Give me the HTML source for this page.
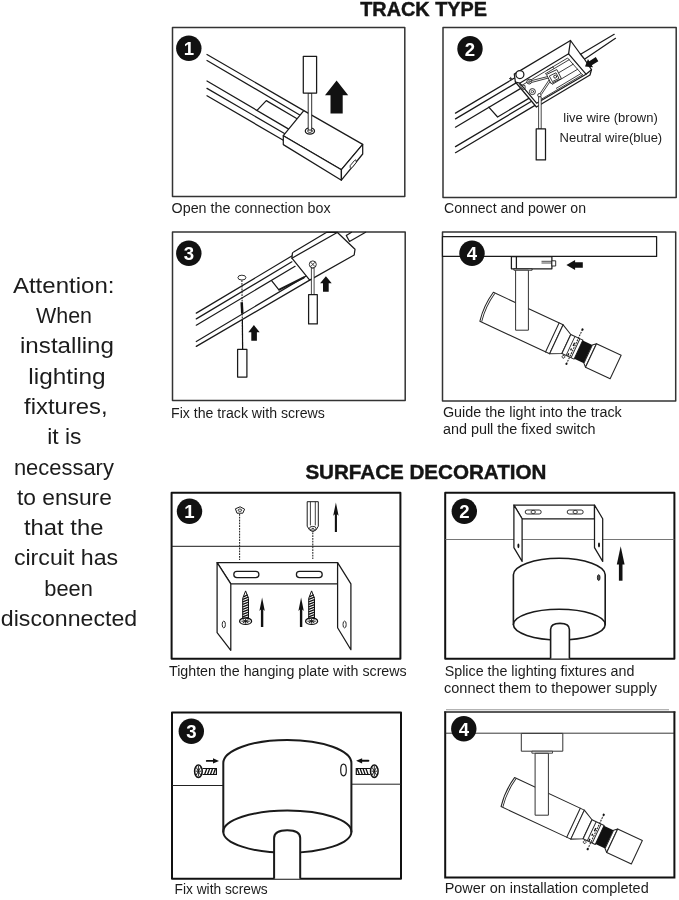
<!DOCTYPE html>
<html lang="en">
<head>
<meta charset="utf-8">
<title>Installation guide</title>
<style>
html,body{margin:0;padding:0;background:#fff;}
body{width:679px;height:900px;overflow:hidden;position:relative;font-family:"Liberation Sans",sans-serif;}
svg{position:absolute;left:0;top:0;display:block;will-change:transform;}
text{font-family:"Liberation Sans",sans-serif;fill:#1c1c1c;}
.ttl{font-weight:bold;fill:#141414;stroke:#141414;stroke-width:.45;}
.cap{font-size:14px;}
.att{font-size:21.5px;}
.lbl{font-size:13px;}
.ln{fill:none;stroke:#1a1a1a;stroke-width:1.25;stroke-linejoin:round;stroke-linecap:round;}
.wf{fill:#fff;stroke:#1a1a1a;stroke-width:1.25;stroke-linejoin:round;}
.bk{fill:#111;stroke:none;}
.lw{stroke-width:1.05;stroke:#262626;}
.num{font-weight:bold;font-size:18.6px;fill:#fff;text-anchor:middle;}
.thin{fill:none;stroke:#2a2a2a;stroke-width:0.9;}
.dot{fill:none;stroke:#222;stroke-width:1.05;stroke-dasharray:1.8 1;}
</style>
</head>
<body>
<svg width="679" height="900" viewBox="0 0 679 900">
<defs>
<g id="lamp" style="stroke-width:1.05">
  <!-- local coords: axis along x -->
  <path class="wf lw" d="M-1,-16 L76,-16 L76,16 L-1,16 Q-4.2,0 -1,-16 Z"/>
  <path class="thin" d="M0.8,-15.5 Q-2.2,0 0.8,15.5"/>
  <path class="ln lw" d="M71.5,-16 V16"/>
  <path class="wf lw" d="M76,-16 L87,-10.5 L87,10.5 L76,16 Z"/>
  <path class="wf lw" d="M87,-10.5 H100.4 V10.5 H87 Z"/>
  <path class="thin" d="M91.6,-10.5 V10.5 M97.1,-10.5 V10.5"/>
  <path d="M94,-4.5 V-1 M93.6,2 V4 M93.2,7.5 V10" stroke="#111" stroke-width="1.3" fill="none"/>
  <path class="bk" d="M100.4,-10 H111 V10 H100.4 Z"/>
  <path class="wf lw" d="M111,-10 L114.2,-13 V13 L111,10 Z"/>
  <path class="wf lw" d="M114.2,-13 H141.4 V13 H114.2 Z"/>
  <path class="dot" d="M95.5,-20 V18"/>
  <circle cx="95.5" cy="-20" r="1.1" fill="#111"/>
  <circle cx="95.5" cy="18" r="1.1" fill="#111"/>
  <circle class="wf lw" cx="89.8" cy="12.8" r="1.4" style="stroke-width:.8"/>
</g>
</defs>

<!-- ===== titles ===== -->
<text class="ttl" x="360.2" y="16.1" font-size="19.8" textLength="126.8" lengthAdjust="spacingAndGlyphs">TRACK TYPE</text>
<text class="ttl" x="305.4" y="478.5" font-size="20.6" textLength="241" lengthAdjust="spacingAndGlyphs">SURFACE DECORATION</text>

<!-- ===== attention text ===== -->
<g class="att">
<text x="12.9" y="293.3" textLength="101.6" lengthAdjust="spacingAndGlyphs">Attention:</text>
<text x="36" y="323.2" textLength="56" lengthAdjust="spacingAndGlyphs">When</text>
<text x="20" y="353.2" textLength="94" lengthAdjust="spacingAndGlyphs">installing</text>
<text x="28.3" y="383.6" textLength="77.3" lengthAdjust="spacingAndGlyphs">lighting</text>
<text x="24.1" y="414" textLength="83.6" lengthAdjust="spacingAndGlyphs">fixtures,</text>
<text x="47.3" y="444.4" textLength="34.2" lengthAdjust="spacingAndGlyphs">it is</text>
<text x="13.9" y="474.5" textLength="100" lengthAdjust="spacingAndGlyphs">necessary</text>
<text x="16.9" y="504.9" textLength="95" lengthAdjust="spacingAndGlyphs">to ensure</text>
<text x="24" y="534.6" textLength="79.4" lengthAdjust="spacingAndGlyphs">that the</text>
<text x="13.9" y="564.9" textLength="104.3" lengthAdjust="spacingAndGlyphs">circuit has</text>
<text x="44.3" y="595.5" textLength="48.6" lengthAdjust="spacingAndGlyphs">been</text>
<text x="0.8" y="626.3" textLength="136.4" lengthAdjust="spacingAndGlyphs">disconnected</text>
</g>

<!-- ===== captions ===== -->
<g class="cap">
<text x="171.6" y="213" textLength="159" lengthAdjust="spacingAndGlyphs">Open the connection box</text>
<text x="444" y="213" textLength="142" lengthAdjust="spacingAndGlyphs">Connect and power on</text>
<text x="171" y="417.8" textLength="153.9" lengthAdjust="spacingAndGlyphs">Fix the track with screws</text>
<text x="442.9" y="416.8" textLength="178.9" lengthAdjust="spacingAndGlyphs">Guide the light into the track</text>
<text x="442.9" y="434" textLength="152.7" lengthAdjust="spacingAndGlyphs">and pull the fixed switch</text>
<text x="169" y="675.7" textLength="237.7" lengthAdjust="spacingAndGlyphs">Tighten the hanging plate with screws</text>
<text x="444.7" y="675.8" textLength="189.7" lengthAdjust="spacingAndGlyphs">Splice the lighting fixtures and</text>
<text x="444" y="692.7" textLength="213" lengthAdjust="spacingAndGlyphs">connect them to thepower supply</text>
<text x="174.5" y="894.4" textLength="93.2" lengthAdjust="spacingAndGlyphs">Fix with screws</text>
<text x="444.7" y="893.4" textLength="204" lengthAdjust="spacingAndGlyphs">Power on installation completed</text>
</g>
<text class="lbl" x="563.3" y="121.8" textLength="94.5" lengthAdjust="spacingAndGlyphs">live wire (brown)</text>
<text class="lbl" x="559.6" y="142.2" textLength="102.6" lengthAdjust="spacingAndGlyphs">Neutral wire(blue)</text>

<!-- P12S -->
<!-- ===== TRACK 1 ===== -->
<g id="t1">
<rect class="ln" x="172.5" y="27.6" width="232.3" height="168.8" style="stroke-width:1.5;stroke:#333"/>
<circle class="bk" cx="188.8" cy="48.2" r="12.7"/>
<text class="num" x="188.8" y="54.9">1</text>
<!-- rails -->
<path class="ln" d="M207,54.5 L303.8,110.6 M207,60.5 L300.2,115.2 M207,81 L288.7,129.1 M207,88.4 L284.9,133.7 M207,95.7 L283.3,140.3"/>
<path class="ln" d="M257,110.4 L266.3,100.6 L297.1,118.8"/>
<!-- box -->
<path class="wf" d="M303.8,110.6 L362.7,144.4 L341.4,169.7 L283.3,135.7 Z"/>
<path class="wf" d="M283.3,135.7 L341.4,169.7 L341.4,180.2 L283.3,144.6 Z"/>
<path class="wf" d="M341.4,169.7 L362.7,144.4 L362.7,154 L341.4,180.2 Z"/>
<path class="wf" d="M350.2,165.6 L354.4,160.6 Q356.2,158.8 356.2,161 L356.2,162.6 L352,167.7 Q350.2,169.6 350.2,167.4 Z" style="stroke-width:.9"/>
<!-- screwdriver -->
<ellipse class="wf" cx="309.9" cy="131" rx="4.6" ry="3.1"/>
<ellipse class="ln" cx="309.9" cy="131" rx="2.3" ry="1.5" style="stroke-width:.8"/>
<path class="wf" d="M308.2,93 H311.7 V130 H308.2 Z" style="stroke-width:.9"/>
<rect class="wf" x="303.3" y="56.3" width="13.3" height="36.8"/>
<!-- arrow -->
<path class="bk" d="M336.6,80.4 L348.2,95.2 H342.7 V113.5 H330.5 V95.2 H325 Z"/>
</g>

<!-- ===== TRACK 2 ===== -->
<g id="t2">
<rect class="ln" x="443" y="27.6" width="233.2" height="170" style="stroke-width:1.5;stroke:#333"/>
<circle class="bk" cx="470" cy="48.8" r="12.7"/>
<text class="num" x="470" y="55.5">2</text>
<!-- rails -->
<path class="ln" d="M455.5,113.1 L514.5,78 M455.5,118.9 L516.6,82.6 M455.5,127.2 L520.8,88.4 M455.5,146.6 L531.6,101.3 M455.5,152.7 L535,105.4"/>
<path class="ln" d="M488.8,107.2 L497.6,117 L528.8,98.4"/>
<!-- cable -->
<path class="ln" d="M580.6,54.2 L614.2,34.3 M583.3,59.9 L615.5,38.3"/>
<!-- box outer -->
<path class="wf" d="M514.3,74.1 L570.5,40.5 L580,53.5 L582,56 L584,58.5 L591.5,69.7 L590,75 L536.4,107 L515.4,82 Z"/>
<!-- inner rim -->
<path class="ln" d="M519.7,83.2 L568.6,53.8 L586,74.2 L536.6,103.2 Z"/>
<path class="thin" d="M522.4,85 L567.6,58 L582.8,75.2"/>
<path class="ln" d="M570.5,40.5 L568.6,53.8 M591.5,69.7 L586,74.2 M515.4,82 L519.7,83.2"/>

<!-- inner rails -->
<path class="thin" d="M545,74 L569.5,59.5 M549,78.5 L573.5,64 M552,84.5 L578,69 M556,88.5 L581,73.5 M540,100 L583,74.5"/>
<!-- terminals -->
<circle class="wf" cx="519.9" cy="74.6" r="4"/>
<path class="thin" d="M509,78.6 H512.4 M510.7,76.9 V80.3"/>
<path class="thin" d="M519.5,84.5 L523.5,90 Q526,89 525,85.5 Z"/>
<circle class="wf" cx="529.2" cy="81.6" r="2.4" style="stroke-width:.9"/>
<circle class="ln" cx="529.2" cy="81.6" r="1" style="stroke-width:.7"/>
<circle class="wf" cx="532.4" cy="91.6" r="3" style="stroke-width:.9"/>
<circle class="ln" cx="532.4" cy="91.6" r="1.2" style="stroke-width:.7"/>
<circle class="wf" cx="539.4" cy="95.2" r="1.7" style="stroke-width:.9"/>
<path class="thin" d="M531.5,80.6 L547.5,76.6 M531.8,82.4 L548.5,78 M540,93.6 L550,78.5 M541.4,94.4 L551.6,79.2"/>
<path class="wf" d="M546.5,74.5 L556.8,69.6 L561.4,78.6 L551,83.6 Z" style="stroke-width:.9"/>
<path class="thin" d="M549.3,76 L556,72.8 L559,78.4 L552.4,81.6 Z"/>
<circle cx="555.2" cy="76.6" r="1.5" class="ln" style="stroke-width:.9"/>
<path class="thin" d="M546.5,70.5 L553,66.8 L553.6,68.6"/>
<!-- tester -->
<path class="wf" d="M538.6,96.8 H541.2 V129 H538.6 Z" style="stroke-width:.8"/>
<rect class="wf" x="536.2" y="128.9" width="9.3" height="31"/>
<!-- arrow (down-left) -->
<g transform="translate(585,66.6) rotate(-31.8)">
<path class="bk" d="M0,0 L6.5,-4.8 V-2.4 H14.2 V2.4 H6.5 V4.8 Z"/>
</g>
</g>

<!-- P12E -->
<!-- P34S -->
<!-- ===== TRACK 3 ===== -->
<g id="t3">
<rect class="ln" x="172.5" y="232" width="232.7" height="168.6" style="stroke-width:1.5;stroke:#333"/>
<circle class="bk" cx="188.8" cy="253.3" r="12.7"/>
<text class="num" x="188.8" y="260.0">3</text>
<!-- rails -->
<path class="ln" d="M196.3,313.1 L292.2,255.8 M196.3,318.9 L291.9,261.8 M196.3,325.2 L295.1,266.3 M196.3,341.5 L306.3,275.9 M196.3,346.4 L309.7,280.1"/>
<path class="ln" d="M271.6,280.6 L278.9,289.8"/>
<path class="ln" d="M279.3,289.6 L303.8,277.5" style="stroke-width:2"/>
<!-- connector box -->
<path class="wf" d="M293.6,252 L326.7,232.3 L337.2,232.3 L355,249.3 L354.2,255 L309.7,280.1 L291.9,258.2 L292.4,253.4 Q292.6,252.3 293.6,252 Z"/>
<path class="ln" d="M291.9,258.2 L337.2,232.5"/>
<!-- cable -->
<path class="ln" d="M346.3,235.5 L351.5,232.3 M349.5,241.5 L365.6,232.3 M346.3,235.5 L349.5,241.5"/>
<!-- left screw + driver -->
<ellipse class="wf" cx="241.9" cy="277.6" rx="4" ry="2.4" style="stroke-width:.9"/>
<path class="dot" d="M241.9,280.2 L242.6,349"/>
<path d="M241.7,302.2 L242.3,313.6" stroke="#111" stroke-width="2.5" fill="none"/>
<path d="M242.4,320 L242.6,349" stroke="#111" stroke-width="1.2" fill="none"/>
<rect class="wf" x="237.6" y="349.4" width="9.3" height="27.6"/>
<path class="bk" d="M253.9,325 L259.7,332.3 H256.9 V340.8 H251.3 V332.3 H248.3 Z"/>
<!-- right screw + driver -->
<path class="wf" d="M311.4,268 H314.1 V295 H311.4 Z" style="stroke-width:.8"/>
<circle class="wf" cx="312.8" cy="264.4" r="3.5" style="stroke-width:.9"/>
<path class="thin" d="M310.5,262.1 L315.1,266.7 M315.1,262.1 L310.5,266.7"/>
<rect class="wf" x="308.6" y="294.7" width="8.7" height="29.2"/>
<path class="bk" d="M325.9,276.3 L331.7,283.3 H328.7 V291.8 H323 V283.3 H320.1 Z"/>
</g>

<!-- ===== TRACK 4 ===== -->
<g id="t4">
<rect class="ln" x="442.5" y="232" width="233.2" height="169" style="stroke-width:1.5;stroke:#333"/>
<rect class="wf" x="442.5" y="236.6" width="214.1" height="19.8"/>
<circle class="bk" cx="472" cy="253.3" r="12.7"/>
<text class="num" x="472" y="260.0">4</text>
<!-- adapter -->
<rect class="wf" x="511.4" y="256.6" width="40.5" height="12.2"/>
<path class="ln" d="M516.4,256.6 V268.8"/>
<path d="M541.5,261.3 H551.9 M541.5,263 H551.9" stroke="#222" stroke-width=".8" fill="none"/>
<rect class="wf" x="551.9" y="260.8" width="3.8" height="5.2" style="stroke-width:.9"/>
<rect class="wf" x="513.9" y="268.8" width="18.2" height="1.4" style="stroke-width:.9"/>
<!-- lamp -->
<use href="#lamp" transform="translate(487.5,307.2) rotate(25)"/>
<rect class="wf" x="515.6" y="270.2" width="12.8" height="60" style="stroke-width:1;stroke:#333"/>
<!-- arrow left -->
<path class="bk" d="M566.4,264.9 L575.1,259.9 V262.3 H582.8 V267.7 H575.1 V270.1 Z"/>
</g>

<!-- P34E -->
<!-- P56S -->
<!-- ===== SURFACE 1 ===== -->
<g id="s1">
<rect class="ln" x="171.6" y="492.8" width="228.8" height="166" style="stroke-width:2;stroke:#111"/>
<path class="ln" d="M171.6,546.3 H400.4" style="stroke-width:1"/>
<circle class="bk" cx="189.5" cy="511.3" r="12.7"/>
<text class="num" x="189.5" y="518.0">1</text>
<!-- nut -->
<path class="wf" d="M240.1,506.8 L244.6,509.2 L242.8,513.2 L237,513.2 L235.4,508.8 Z" style="stroke-width:1"/>
<ellipse class="thin" cx="239.9" cy="510.2" rx="1.8" ry="1.2"/>
<path class="dot" d="M239.6,514 V560"/>
<!-- wall plug -->
<path class="wf" d="M307.2,501.7 H318.3 V526.2 L316.2,529.8 L312.8,531.7 L309.4,529.8 L307.2,526.2 Z" style="stroke-width:1"/>
<path class="thin" d="M310.4,501.7 V525.4 M315.3,501.7 V525.4"/>
<ellipse class="wf" cx="312.8" cy="528.3" rx="3.3" ry="1.9" style="stroke-width:.9"/>
<ellipse cx="312.8" cy="528.5" rx="1.3" ry=".7" fill="#444"/>
<path class="dot" d="M312.8,532.4 V559"/>
<!-- thin arrow -->
<path class="bk" d="M335.9,502.5 L338.59999999999997,515.8 L336.95,514.3 V532.1 H334.84999999999997 V514.3 L333.2,515.8 Z"/>
<!-- bracket -->
<path class="wf" d="M217.1,562.6 H337.6 V583.9 H230.8 Z"/>
<path class="wf" d="M217.1,562.6 L230.8,583.9 V650.3 L217.1,632.7 Z"/>
<path class="wf" d="M337.6,562.6 L350.9,583.9 V649.7 L337.6,627.7 Z"/>
<rect class="wf" x="233.8" y="571.4" width="25.1" height="6.2" rx="3.1"/>
<rect class="wf" x="296.4" y="571.4" width="25.8" height="6.2" rx="3.1"/>
<ellipse class="wf" cx="223.8" cy="624.5" rx="1.6" ry="3.4" style="stroke-width:.9"/>
<ellipse class="wf" cx="344.6" cy="624.5" rx="1.6" ry="3.4" style="stroke-width:.9"/>
<!-- screws -->
<g id="wscrew">
<path d="M245.6,590.9 L242.7,598.4 V618.6 H248.5 V598.4 Z" fill="#fff" stroke="#111" stroke-width="1" stroke-linejoin="round"/>
<path d="M243.5,596.9 L247.7,594.7 M242.7,599.4 L248.5,597.2 M242.7,601.9 L248.5,599.7 M242.7,604.4 L248.5,602.2 M242.7,606.9 L248.5,604.7 M242.7,609.4 L248.5,607.2 M242.7,611.9 L248.5,609.7 M242.7,614.4 L248.5,612.2 M242.7,616.9 L248.5,614.7 M242.7,619.4 L248.5,617.2" stroke="#111" stroke-width="1.25" fill="none"/>
<ellipse class="wf" cx="245.6" cy="621.2" rx="6" ry="3.2" style="stroke-width:1.3;stroke:#111"/>
<path d="M241.4,621.2 H249.79999999999998 M245.6,619 V623.6 M242.79999999999998,619.6 L248.4,622.9 M248.4,619.6 L242.79999999999998,622.9" stroke="#111" stroke-width=".9" fill="none"/>
</g>
<use href="#wscrew" x="66"/>
<path class="bk" d="M262.1,597.5 L264.8,611.0 L263.3,609.5 V627 H260.90000000000003 V609.5 L259.40000000000003,611.0 Z"/>
<path class="bk" d="M301.1,597.5 L303.8,611.0 L302.3,609.5 V627 H299.90000000000003 V609.5 L298.40000000000003,611.0 Z"/>
</g>

<!-- ===== SURFACE 2 ===== -->
<g id="s2">
<rect class="ln" x="445.2" y="492.8" width="229.2" height="166" style="stroke-width:2;stroke:#111"/>
<path d="M445.2,539.5 H674.4" stroke="#666" stroke-width=".9" fill="none"/>
<circle class="bk" cx="464.3" cy="511.3" r="12.7"/>
<text class="num" x="464.3" y="518.0">2</text>
<!-- bracket -->
<path class="wf" d="M513.9,505 H594.5 V518.8 H522.1 Z"/>
<path class="wf" d="M513.9,505 L522.1,518.8 V561.4 L513.9,547.6 Z"/>
<path class="wf" d="M594.5,505 L602.7,518.8 V561.4 L594.5,547.6 Z"/>
<rect class="wf" x="525.2" y="510" width="16" height="4" rx="2" style="stroke-width:.9"/>
<ellipse class="thin" cx="533.2" cy="512" rx="2.2" ry="1.6"/>
<rect class="wf" x="567.2" y="510" width="16" height="4" rx="2" style="stroke-width:.9"/>
<ellipse class="thin" cx="575.2" cy="512" rx="2.2" ry="1.6"/>
<ellipse cx="518.4" cy="545.8" rx="1" ry="2.4" fill="#111"/>
<ellipse cx="599" cy="545" rx="1" ry="2.4" fill="#111"/>
<!-- canopy -->
<path class="wf" d="M513.4,574.8 A45.9,16.5 0 0 1 605.2,574.8 V624.6 A45.9,15.3 0 0 1 513.4,624.6 Z" style="stroke-width:1.6"/>
<path class="ln" d="M513.4,624.6 A45.9,15.3 0 0 1 605.2,624.6" style="stroke-width:1.6"/>
<ellipse cx="598.7" cy="577.6" rx="1.3" ry="2.9" fill="#555" stroke="#111" stroke-width=".9"/>
<!-- stem -->
<path class="wf" d="M550.6,658.5 V629.5 Q550.6,623.4 560,623.4 Q569.4,623.4 569.4,629.5 V658.5" style="stroke-width:1.6"/>
<!-- arrow -->
<path d="M620.7,580.7 V562" stroke="#111" stroke-width="3.6" fill="none"/>
<path class="bk" d="M620.7,546.3 L624.6,564.4 H616.8 Z"/>
</g>

<!-- P56E -->
<!-- P78S -->
<!-- ===== SURFACE 3 ===== -->
<g id="s3">
<rect class="ln" x="172" y="712.6" width="229" height="166.2" style="stroke-width:2;stroke:#111"/>
<path d="M172,785.5 H223.3 M351.4,784.2 H401" stroke="#222" stroke-width="1" fill="none"/>
<circle class="bk" cx="191.3" cy="731.3" r="12.7"/>
<text class="num" x="191.3" y="738.0">3</text>
<!-- canopy -->
<path class="wf" d="M223.3,763.1 A64.05,23.2 0 0 1 351.4,763.1 V831.7 A64.05,21.1 0 0 1 223.3,831.7 Z" style="stroke-width:2"/>
<path class="ln" d="M223.3,831.7 A64.05,21.1 0 0 1 351.4,831.7" style="stroke-width:2"/>
<ellipse class="wf" cx="343.5" cy="770" rx="2.8" ry="5.8" style="stroke-width:1.2"/>
<!-- stem -->
<path class="wf" d="M274.1,878.8 V838 Q274.1,830.2 287.2,830.2 Q300.2,830.2 300.2,838 V878.8" style="stroke-width:2"/>
<!-- left screw -->
<g id="hscrew">
<path d="M202.6,768.5 H216.4 V774.5 H202.6" stroke="#111" stroke-width="1.2" fill="#fff"/>
<path d="M204.6,774.5 L206.8,768.5 M207.5,774.5 L209.7,768.5 M210.4,774.5 L212.6,768.5 M213.3,774.5 L215.5,768.5" stroke="#111" stroke-width="1.3" fill="none"/>
<ellipse class="wf" cx="198.4" cy="771.2" rx="3.8" ry="6.2" style="stroke-width:1.5;stroke:#111"/>
<path d="M198.4,766 V776.4 M195.6,771.2 H201.2 M196.2,767.4 L200.6,775 M200.6,767.4 L196.2,775" stroke="#111" stroke-width=".9" fill="none"/>
</g>
<path d="M206.8,760.9 H213.6" stroke="#111" stroke-width="1.9" fill="none" stroke-linecap="round"/>
<path class="bk" d="M219,760.9 L213,758.3 V763.5 Z"/>
<!-- right screw (mirrored) -->
<use href="#hscrew" transform="translate(572.7,0) scale(-1,1)"/>
<path d="M368.4,760.8 H361.6" stroke="#111" stroke-width="1.9" fill="none" stroke-linecap="round"/>
<path class="bk" d="M356.1,760.8 L362.1,758.2 V763.4 Z"/>
</g>

<!-- ===== SURFACE 4 ===== -->
<g id="s4">
<path d="M446,709.8 H669" stroke="#9a9a9a" stroke-width="1.1" fill="none"/>
<path d="M445.2,711.4 V877.6 H674.4 V711.4" fill="none" stroke="#111" stroke-width="2" stroke-linejoin="miter"/>
<path d="M444.2,712 H675.4" stroke="#222" stroke-width="1.3" fill="none"/>
<path d="M445.2,733.2 H674.4" stroke="#222" stroke-width=".9" fill="none"/>
<circle class="bk" cx="463.8" cy="728.8" r="12.7"/>
<text class="num" x="463.8" y="735.5">4</text>
<rect class="wf" x="521.3" y="733.4" width="41.5" height="17.8" style="stroke-width:1;stroke:#333"/>
<rect class="wf" x="531.9" y="751.2" width="20.6" height="2" style="stroke-width:.9;stroke:#333"/>
<use href="#lamp" transform="translate(508.7,792.5) rotate(25)"/>
<rect class="wf" x="535.1" y="753.3" width="13.3" height="61.9" style="stroke-width:1;stroke:#333"/>
</g>

<!-- P78E -->
<!-- PANELS-PLACEHOLDER -->

</svg>
</body>
</html>
